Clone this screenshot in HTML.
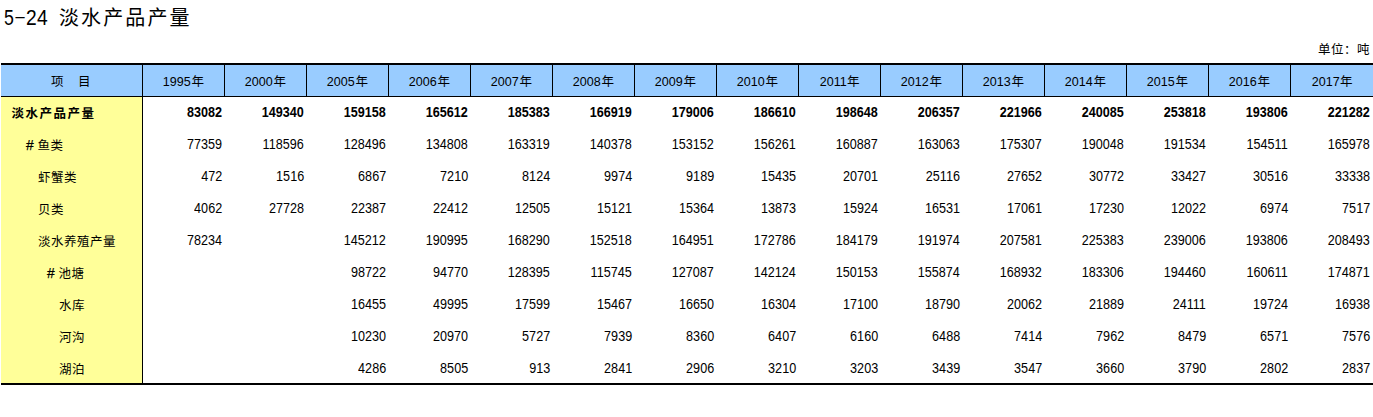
<!DOCTYPE html>
<html lang="zh-CN">
<head>
<meta charset="utf-8">
<title>5-24 淡水产品产量</title>
<style>
html,body{margin:0;padding:0;background:#fff;}
body{width:1373px;height:417px;position:relative;overflow:hidden;color:#000;
  font-family:"Liberation Sans","Noto Sans CJK SC",sans-serif;}
.title{position:absolute;left:4px;top:3px;margin:0;font-weight:normal;font-size:20px;line-height:30px;white-space:nowrap;
  font-family:"Liberation Sans","Noto Sans CJK SC",sans-serif;}
.title .num{display:inline-block;width:55.5px;font-size:21.6px;line-height:20px;vertical-align:baseline;}
.title .num b{font-weight:normal;display:inline-block;width:12.01px;margin-right:-1.34px;text-align:center;transform:translateX(.3px) scaleX(.89);transform-origin:50% 50%;}
.title .num b:first-child{position:relative;left:-1.0px;transform:scaleX(.82);}
.title .num b.hy{width:10.67px;margin-right:0;transform:translate(-.2px,-1.4px) scale(1.75,.7);}
.title .cj{letter-spacing:2.1px;position:relative;left:-.5px;top:0px;}
.unit{position:absolute;right:3px;top:40.5px;font-size:12.5px;letter-spacing:.5px;line-height:18px;white-space:nowrap;
  font-family:"Liberation Sans","Noto Sans CJK SC",sans-serif;}
table.t{position:absolute;left:1px;top:63px;width:1372px;border-collapse:separate;border-spacing:0;table-layout:fixed;
  border-top:2px solid #000;font-size:13px;}
.t th,.t td{padding:0;margin:0;box-sizing:border-box;overflow:hidden;white-space:nowrap;}
.t th{height:32px;background:#99ccff;border-right:1px solid #000;border-bottom:1px solid #000;font-weight:normal;text-align:center;width:82px;font-size:12.5px;
  padding-top:0px;
  font-family:"Liberation Sans","Noto Sans CJK SC",sans-serif;}
.t th:last-child{border-right:none;}
.t th.c0{width:142px;padding-right:1.5px;}
.t th .gap{display:inline-block;width:14.5px;}
.t th .y{display:inline-block;font-size:13.33px;transform:scaleX(.94);transform-origin:100% 50%;margin-left:-1.8px;margin-right:.6px;}
.t td{height:32px;text-align:right;padding-right:3px;font-size:14px;line-height:16px;vertical-align:top;padding-top:7px;}
.t td span{display:inline-block;transform:scaleX(.9);transform-origin:100% 50%;}
.t td.c0{background:#ffff99;border-right:1px solid #000;text-align:left;font-size:12.5px;letter-spacing:.5px;line-height:16px;padding-top:8.7px;
  font-family:"Liberation Sans","Noto Sans CJK SC",sans-serif;}
.t td.c0 u{text-decoration:none;display:inline-block;width:11.4px;font-size:15px;line-height:14px;letter-spacing:0;-webkit-text-stroke:.25px #000;transform:scaleX(.92);transform-origin:0 50%;}
.t td.l0{padding-left:10.5px;letter-spacing:1.5px;}
.t td.l1{padding-left:25px;}
.t td.l2{padding-left:37px;}
.t td.l3{padding-left:46px;}
.t td.l4{padding-left:58px;}
.t .b{font-weight:bold;}
.t tr.last td{height:32px;border-bottom:2px solid #000;}

</style>
</head>
<body>
<h1 class="title"><span class="num"><b>5</b><b class="hy">-</b><b>2</b><b>4</b></span><span class="cj">淡水产品产量</span></h1>
<div class="unit">单位：吨</div>
<table class="t" cellspacing="0" cellpadding="0">
<thead><tr><th class="c0">项<span class="gap"></span>目</th><th><span class="y">1995</span>年</th><th><span class="y">2000</span>年</th><th><span class="y">2005</span>年</th><th><span class="y">2006</span>年</th><th><span class="y">2007</span>年</th><th><span class="y">2008</span>年</th><th><span class="y">2009</span>年</th><th><span class="y">2010</span>年</th><th><span class="y">2011</span>年</th><th><span class="y">2012</span>年</th><th><span class="y">2013</span>年</th><th><span class="y">2014</span>年</th><th><span class="y">2015</span>年</th><th><span class="y">2016</span>年</th><th><span class="y">2017</span>年</th></tr></thead>
<tbody>
<tr><td class="c0 l0 b">淡水产品产量</td><td class="n b"><span>83082</span></td><td class="n b"><span>149340</span></td><td class="n b"><span>159158</span></td><td class="n b"><span>165612</span></td><td class="n b"><span>185383</span></td><td class="n b"><span>166919</span></td><td class="n b"><span>179006</span></td><td class="n b"><span>186610</span></td><td class="n b"><span>198648</span></td><td class="n b"><span>206357</span></td><td class="n b"><span>221966</span></td><td class="n b"><span>240085</span></td><td class="n b"><span>253818</span></td><td class="n b"><span>193806</span></td><td class="n b"><span>221282</span></td></tr>
<tr><td class="c0 l1"><u>#</u>鱼类</td><td class="n"><span>77359</span></td><td class="n"><span>118596</span></td><td class="n"><span>128496</span></td><td class="n"><span>134808</span></td><td class="n"><span>163319</span></td><td class="n"><span>140378</span></td><td class="n"><span>153152</span></td><td class="n"><span>156261</span></td><td class="n"><span>160887</span></td><td class="n"><span>163063</span></td><td class="n"><span>175307</span></td><td class="n"><span>190048</span></td><td class="n"><span>191534</span></td><td class="n"><span>154511</span></td><td class="n"><span>165978</span></td></tr>
<tr><td class="c0 l2">虾蟹类</td><td class="n"><span>472</span></td><td class="n"><span>1516</span></td><td class="n"><span>6867</span></td><td class="n"><span>7210</span></td><td class="n"><span>8124</span></td><td class="n"><span>9974</span></td><td class="n"><span>9189</span></td><td class="n"><span>15435</span></td><td class="n"><span>20701</span></td><td class="n"><span>25116</span></td><td class="n"><span>27652</span></td><td class="n"><span>30772</span></td><td class="n"><span>33427</span></td><td class="n"><span>30516</span></td><td class="n"><span>33338</span></td></tr>
<tr><td class="c0 l2">贝类</td><td class="n"><span>4062</span></td><td class="n"><span>27728</span></td><td class="n"><span>22387</span></td><td class="n"><span>22412</span></td><td class="n"><span>12505</span></td><td class="n"><span>15121</span></td><td class="n"><span>15364</span></td><td class="n"><span>13873</span></td><td class="n"><span>15924</span></td><td class="n"><span>16531</span></td><td class="n"><span>17061</span></td><td class="n"><span>17230</span></td><td class="n"><span>12022</span></td><td class="n"><span>6974</span></td><td class="n"><span>7517</span></td></tr>
<tr><td class="c0 l2">淡水养殖产量</td><td class="n"><span>78234</span></td><td class="n"></td><td class="n"><span>145212</span></td><td class="n"><span>190995</span></td><td class="n"><span>168290</span></td><td class="n"><span>152518</span></td><td class="n"><span>164951</span></td><td class="n"><span>172786</span></td><td class="n"><span>184179</span></td><td class="n"><span>191974</span></td><td class="n"><span>207581</span></td><td class="n"><span>225383</span></td><td class="n"><span>239006</span></td><td class="n"><span>193806</span></td><td class="n"><span>208493</span></td></tr>
<tr><td class="c0 l3"><u>#</u>池塘</td><td class="n"></td><td class="n"></td><td class="n"><span>98722</span></td><td class="n"><span>94770</span></td><td class="n"><span>128395</span></td><td class="n"><span>115745</span></td><td class="n"><span>127087</span></td><td class="n"><span>142124</span></td><td class="n"><span>150153</span></td><td class="n"><span>155874</span></td><td class="n"><span>168932</span></td><td class="n"><span>183306</span></td><td class="n"><span>194460</span></td><td class="n"><span>160611</span></td><td class="n"><span>174871</span></td></tr>
<tr><td class="c0 l4">水库</td><td class="n"></td><td class="n"></td><td class="n"><span>16455</span></td><td class="n"><span>49995</span></td><td class="n"><span>17599</span></td><td class="n"><span>15467</span></td><td class="n"><span>16650</span></td><td class="n"><span>16304</span></td><td class="n"><span>17100</span></td><td class="n"><span>18790</span></td><td class="n"><span>20062</span></td><td class="n"><span>21889</span></td><td class="n"><span>24111</span></td><td class="n"><span>19724</span></td><td class="n"><span>16938</span></td></tr>
<tr><td class="c0 l4">河沟</td><td class="n"></td><td class="n"></td><td class="n"><span>10230</span></td><td class="n"><span>20970</span></td><td class="n"><span>5727</span></td><td class="n"><span>7939</span></td><td class="n"><span>8360</span></td><td class="n"><span>6407</span></td><td class="n"><span>6160</span></td><td class="n"><span>6488</span></td><td class="n"><span>7414</span></td><td class="n"><span>7962</span></td><td class="n"><span>8479</span></td><td class="n"><span>6571</span></td><td class="n"><span>7576</span></td></tr>
<tr class="last"><td class="c0 l4">湖泊</td><td class="n"></td><td class="n"></td><td class="n"><span>4286</span></td><td class="n"><span>8505</span></td><td class="n"><span>913</span></td><td class="n"><span>2841</span></td><td class="n"><span>2906</span></td><td class="n"><span>3210</span></td><td class="n"><span>3203</span></td><td class="n"><span>3439</span></td><td class="n"><span>3547</span></td><td class="n"><span>3660</span></td><td class="n"><span>3790</span></td><td class="n"><span>2802</span></td><td class="n"><span>2837</span></td></tr>
</tbody></table>
</body></html>
